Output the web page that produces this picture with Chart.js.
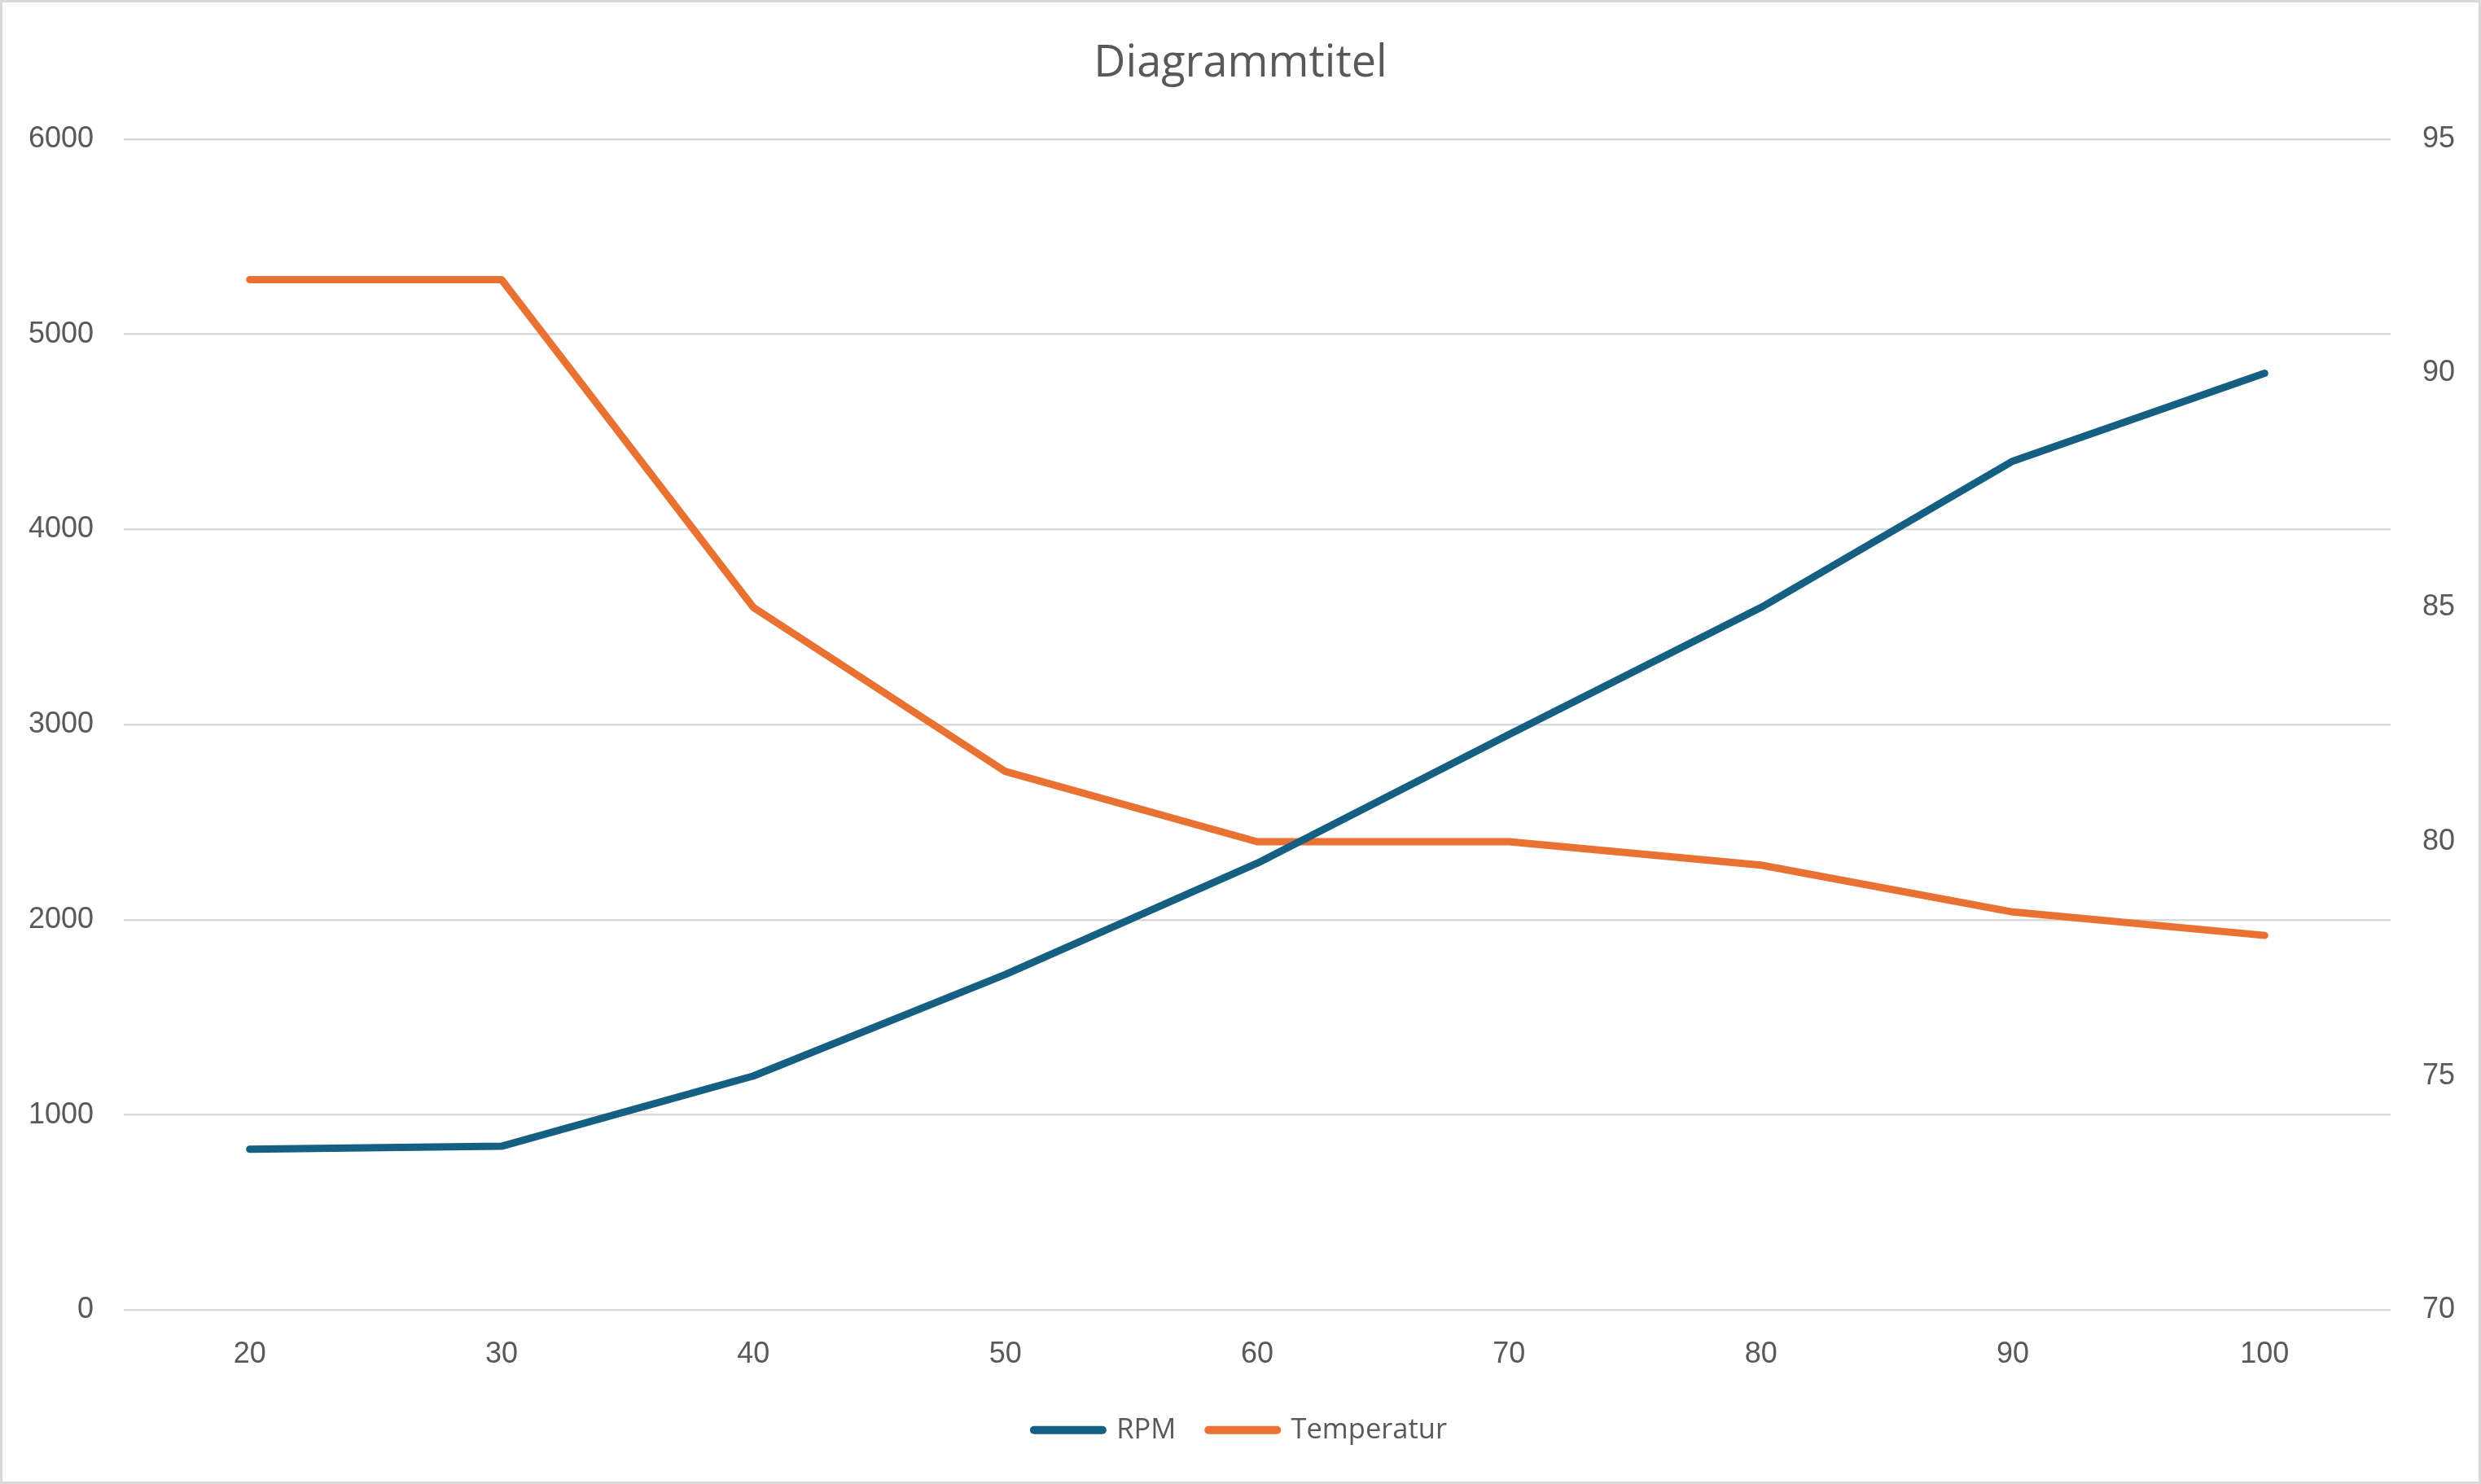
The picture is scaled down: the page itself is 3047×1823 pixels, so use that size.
<!DOCTYPE html>
<html>
<head>
<meta charset="utf-8">
<script src="https://cdn.jsdelivr.net/npm/chart.js@4.4.1/dist/chart.umd.min.js"></script>
<style>
  html, body { margin: 0; padding: 0; background: #fff; }
  #wrap { width: 3047px; height: 1823px; }
</style>
</head>
<body>
<div id="wrap"><canvas id="chart" width="3047" height="1823"></canvas></div>
<script>
// data
const categories = [20, 30, 40, 50, 60, 70, 80, 90, 100];
const rpm = [825, 840, 1200, 1720, 2290, 2950, 3600, 4350, 4800];
const temperatur = [92, 92, 85, 81.5, 80, 80, 79.5, 78.5, 78];
const rpmTicks = [0, 1000, 2000, 3000, 4000, 5000, 6000];
const tempTicks = [70, 75, 80, 85, 90, 95];

const INK = "#595959";
const GRID = "#D9D9D9";

// light frame around the whole chart, like the office chart area border
const frame = {
  id: "frame",
  afterDraw(chart) {
    const ctx = chart.ctx;
    ctx.save();
    ctx.strokeStyle = GRID;
    ctx.lineWidth = 3;
    ctx.strokeRect(1.5, 1.5, chart.width - 3, chart.height - 3);
    ctx.restore();
  },
};

function fixedTicks(list) {
  return (scale) => {
    scale.ticks = list.map((v) => ({ value: v }));
  };
}

const plain = (v) => String(v);

new Chart(document.getElementById("chart"), {
  type: "line",
  data: {
    labels: categories,
    datasets: [
      {
        label: "RPM",
        data: rpm,
        yAxisID: "y",
        borderColor: "#156082",
        backgroundColor: "#156082",
        borderWidth: 9,
        borderCapStyle: "round",
        borderJoinStyle: "round",
        pointRadius: 0,
        tension: 0,
      },
      {
        label: "Temperatur",
        data: temperatur,
        yAxisID: "y1",
        borderColor: "#E97132",
        backgroundColor: "#E97132",
        borderWidth: 9,
        borderCapStyle: "round",
        borderJoinStyle: "round",
        pointRadius: 0,
        tension: 0,
      },
    ],
  },
  options: {
    responsive: false,
    animation: false,
    devicePixelRatio: 1,
    layout: { padding: { top: 0, left: 0, right: 0, bottom: 39 } },
    scales: {
      x: {
        offset: true,
        grid: { display: false, drawTicks: false },
        border: { display: false },
        ticks: { color: INK, padding: 33, font: { family: "Liberation Sans", size: 36 } },
        afterFit: (s) => { s.height = 90; },
      },
      y: {
        position: "left",
        min: 0,
        max: 6000,
        afterBuildTicks: fixedTicks(rpmTicks),
        grid: { color: GRID, lineWidth: 2.5, drawTicks: false },
        border: { display: false },
        ticks: { color: INK, padding: 37, callback: plain, font: { family: "Liberation Sans", size: 36 } },
        afterFit: (s) => { s.width = 152; },
      },
      y1: {
        position: "right",
        min: 70,
        max: 95,
        afterBuildTicks: fixedTicks(tempTicks),
        grid: { display: false, drawTicks: false },
        border: { display: false },
        ticks: { color: INK, padding: 39, callback: plain, font: { family: "Liberation Sans", size: 36 } },
        afterFit: (s) => { s.width = 111; },
      },
    },
    plugins: {
      title: {
        display: true,
        text: "Diagrammtitel",
        color: INK,
        font: { family: "Open Sans", size: 54, weight: "normal", lineHeight: 1.2 },
        padding: { top: 46, bottom: 60 },
      },
      legend: {
        position: "bottom",
        labels: {
          color: INK,
          usePointStyle: true,
          pointStyle: "line",
          pointStyleWidth: 84,
          padding: 40,
          font: { family: "Open Sans", size: 34.5 },
          generateLabels: (chart) =>
            Chart.defaults.plugins.legend.labels.generateLabels(chart).map((item) => ({
              ...item,
              lineCap: "round",
              lineWidth: 10,
            })),
        },
      },
      tooltip: { enabled: false },
    },
  },
  plugins: [frame],
});
</script>
</body>
</html>
